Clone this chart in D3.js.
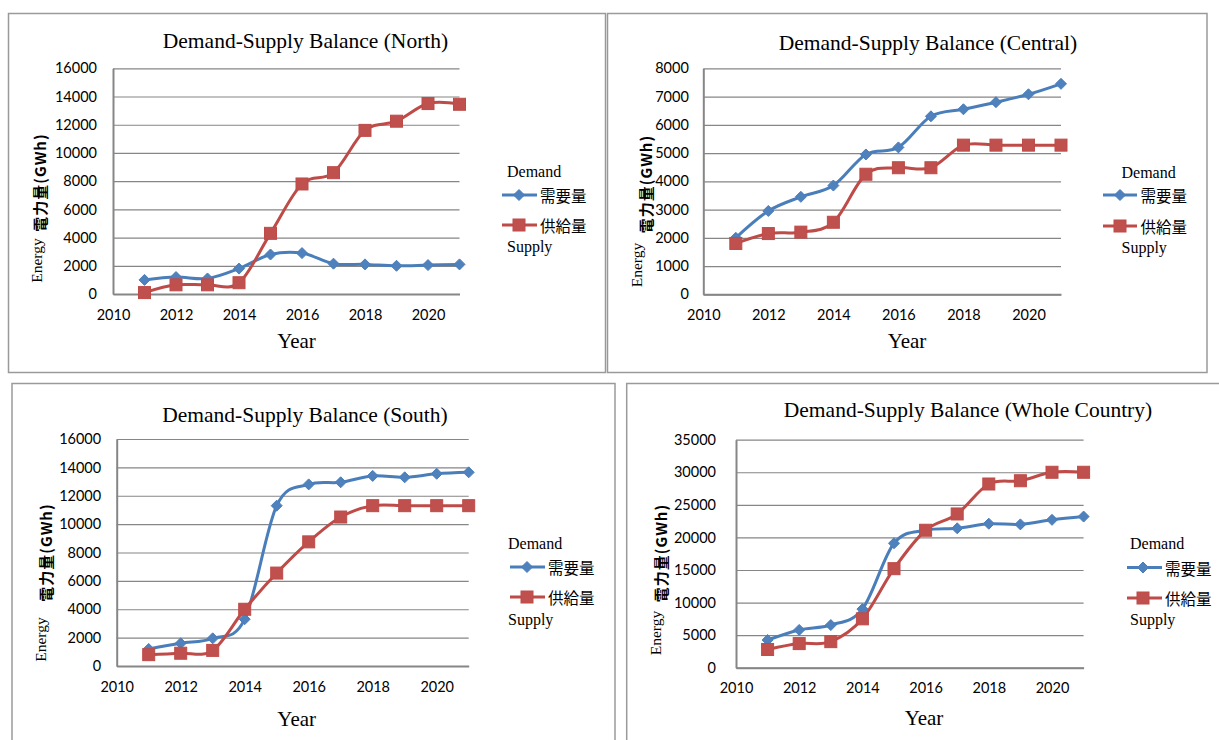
<!DOCTYPE html>
<html>
<head>
<meta charset="utf-8">
<script src="https://cdn.jsdelivr.net/npm/d3@7"></script>
<style>
  body { margin: 0; background: #fff; }
  svg { display: block; }
</style>
</head>
<body>
<svg id="chart" width="1219" height="740"></svg>
<script>
// ---- Data -------------------------------------------------------------
const years = [2011, 2012, 2013, 2014, 2015, 2016, 2017, 2018, 2019, 2020, 2021];
const xTickYears = [2010, 2012, 2014, 2016, 2018, 2020];

const northDemand   = [1000, 1200, 1100, 1800, 2800, 2900, 2150, 2100, 2000, 2050, 2100];
const northSupply   = [100, 650, 650, 800, 4300, 7800, 8600, 11600, 12250, 13500, 13450];
const centralDemand = [2000, 2950, 3450, 3850, 4950, 5200, 6300, 6550, 6800, 7080, 7450];
const centralSupply = [1800, 2150, 2200, 2550, 4250, 4480, 4480, 5280, 5280, 5280, 5280];
const southDemand   = [1200, 1600, 1950, 3300, 11300, 12800, 12950, 13400, 13300, 13550, 13650];
const southSupply   = [800, 900, 1100, 4000, 6550, 8750, 10500, 11300, 11300, 11300, 11300];
const wholeDemand   = [4250, 5800, 6550, 9000, 19100, 21100, 21400, 22100, 22000, 22700, 23200];
const wholeSupply   = [2800, 3700, 4000, 7500, 15200, 21100, 23600, 28200, 28700, 30000, 30000];

const yTicks16k = [0, 2000, 4000, 6000, 8000, 10000, 12000, 14000, 16000];
const yTicks8k  = [0, 1000, 2000, 3000, 4000, 5000, 6000, 7000, 8000];
const yTicks35k = [0, 5000, 10000, 15000, 20000, 25000, 30000, 35000];

const titles = [
  "Demand-Supply Balance (North)",
  "Demand-Supply Balance (Central)",
  "Demand-Supply Balance (South)",
  "Demand-Supply Balance (Whole Country)"
];
const xAxisTitle = "Year";
const yAxisTitleEn = "Energy";
const yAxisTitleJa = "電力量(GWh)";
const demandEn = "Demand", demandJa = "需要量";
const supplyEn = "Supply", supplyJa = "供給量";

// ---- Styles -----------------------------------------------------------
const BLUE_LINE = "#4a7ebb", BLUE_FILL = "#4f81bd";
const RED_LINE = "#be4b48", RED_FILL = "#c0504d";
const GRID = "#868686";
const SERIF = "'Liberation Serif', 'Times New Roman', serif";
const SANS = "Lato, 'Liberation Sans', sans-serif";
const CJK = "'Noto Sans CJK JP', 'Noto Sans CJK SC', sans-serif";

// ---- Layout of the four panels ---------------------------------------
const panels = [
  {
    title: titles[0], demand: northDemand, supply: northSupply, yTicks: yTicks16k,
    frame: [8.5, 13.5, 597, 359],
    xr: [113, 459.5], yr: [294, 68.3], tickPad: 16,
    titlePos: [305.5, 48], yearPos: [296.5, 348],
    enPos: [42, 260.5], jaPos: [39.5, 182.5],
    legend: { tx: 507, dY: 177, lx1: 502, lx2: 537, mx: 519, cx: 540, bY: 195, rY: 225, sY: 252 }
  },
  {
    title: titles[1], demand: centralDemand, supply: centralSupply, yTicks: yTicks8k,
    frame: [607.5, 13.5, 599.5, 359],
    xr: [703.3, 1061], yr: [294.3, 68.3], tickPad: 14.5,
    titlePos: [928, 49.5], yearPos: [907, 348],
    enPos: [642, 265], jaPos: [645.5, 184],
    legend: { tx: 1121.5, dY: 177.5, lx1: 1103, lx2: 1137, mx: 1120, cx: 1140.5, bY: 195, rY: 226, sY: 253 }
  },
  {
    title: titles[2], demand: southDemand, supply: southSupply, yTicks: yTicks16k,
    frame: [12, 383.5, 603, 400],
    xr: [116.7, 468.7], yr: [666, 439], tickPad: 15.5,
    titlePos: [305, 422], yearPos: [296.7, 726],
    enPos: [46, 639.5], jaPos: [45, 552.5],
    legend: { tx: 508, dY: 549, lx1: 510, lx2: 545, mx: 527, cx: 548, bY: 567, rY: 597, sY: 625 }
  },
  {
    title: titles[3], demand: wholeDemand, supply: wholeSupply, yTicks: yTicks35k,
    frame: [626.7, 383.5, 700, 400],
    xr: [736, 1083.6], yr: [667.7, 439.7], tickPad: 20,
    titlePos: [968, 417], yearPos: [924, 725],
    enPos: [661, 633], jaPos: [660, 553],
    legend: { tx: 1130, dY: 549, lx1: 1127, lx2: 1162, mx: 1143, cx: 1165, bY: 567.5, rY: 598, sY: 625 }
  }
];

const svg = d3.select("#chart");

function diamondPath(x, y, r) {
  return `M${x},${y - r}L${x + r},${y}L${x},${y + r}L${x - r},${y}Z`;
}

panels.forEach(p => {
  const g = svg.append("g");

  // outer frame
  g.append("rect")
    .attr("x", p.frame[0]).attr("y", p.frame[1])
    .attr("width", p.frame[2]).attr("height", p.frame[3])
    .attr("fill", "none").attr("stroke", "#9a9a9a").attr("stroke-width", 1.5);

  const x = d3.scaleLinear().domain([2010, 2021]).range(p.xr);
  const yMax = p.yTicks[p.yTicks.length - 1];
  const y = d3.scaleLinear().domain([0, yMax]).range(p.yr);
  const plotW = p.xr[1] - p.xr[0];

  // y axis with horizontal gridlines
  const ya = g.append("g")
    .attr("transform", `translate(${p.xr[0]},0)`)
    .call(d3.axisLeft(y).tickValues(p.yTicks).tickSizeInner(-plotW).tickSizeOuter(0)
      .tickPadding(p.tickPad).tickFormat(d3.format("d")));
  ya.select(".domain").attr("stroke", GRID).attr("stroke-width", 2);
  ya.selectAll(".tick line").attr("stroke", GRID).attr("stroke-width", 1.2);
  ya.selectAll(".tick text").attr("fill", "#000")
    .style("font-family", SANS).style("font-size", "14.5px");

  // x axis
  const xa = g.append("g")
    .attr("transform", `translate(0,${p.yr[0]})`)
    .call(d3.axisBottom(x).tickValues(xTickYears).tickSize(0).tickPadding(15.5)
      .tickFormat(d3.format("d")));
  xa.select(".domain").attr("stroke", GRID).attr("stroke-width", 2);
  xa.selectAll(".tick text").attr("fill", "#000")
    .style("font-family", SANS).style("font-size", "14.5px");

  // titles
  g.append("text").attr("x", p.titlePos[0]).attr("y", p.titlePos[1])
    .attr("text-anchor", "middle").style("font-family", SERIF).style("font-size", "21.5px")
    .text(p.title);
  g.append("text").attr("x", p.yearPos[0]).attr("y", p.yearPos[1])
    .attr("text-anchor", "middle").style("font-family", SERIF).style("font-size", "21px")
    .text(xAxisTitle);
  g.append("text")
    .attr("transform", `translate(${p.enPos[0]},${p.enPos[1]}) rotate(-90)`)
    .attr("text-anchor", "middle").style("font-family", SERIF).style("font-size", "15.5px")
    .text(yAxisTitleEn);
  g.append("text")
    .attr("transform", `translate(${p.jaPos[0]},${p.jaPos[1]}) rotate(-90)`)
    .attr("text-anchor", "middle").attr("dominant-baseline", "central")
    .style("font-family", CJK).style("font-weight", 700).style("font-size", "15px")
    .style("letter-spacing", "1px")
    .text(yAxisTitleJa);

  // series
  const line = d3.line()
    .x((d, i) => x(years[i]))
    .y(d => y(d))
    .curve(d3.curveCatmullRom.alpha(0));

  g.append("path").datum(p.demand).attr("d", line)
    .attr("fill", "none").attr("stroke", BLUE_LINE).attr("stroke-width", 3);
  g.append("path").datum(p.supply).attr("d", line)
    .attr("fill", "none").attr("stroke", RED_LINE).attr("stroke-width", 3);

  g.selectAll(".dm").data(p.demand).join("path")
    .attr("d", (d, i) => diamondPath(x(years[i]), y(d), 5.5))
    .attr("fill", BLUE_FILL).attr("stroke", BLUE_LINE).attr("stroke-width", 1);
  g.selectAll(".sm").data(p.supply).join("rect")
    .attr("x", (d, i) => x(years[i]) - 6).attr("y", d => y(d) - 6)
    .attr("width", 12).attr("height", 12)
    .attr("fill", RED_FILL).attr("stroke", RED_LINE).attr("stroke-width", 1);

  // legend
  const L = p.legend;
  g.append("text").attr("x", L.tx).attr("y", L.dY)
    .style("font-family", SERIF).style("font-size", "16px").text(demandEn);
  g.append("line").attr("x1", L.lx1).attr("x2", L.lx2).attr("y1", L.bY).attr("y2", L.bY)
    .attr("stroke", BLUE_LINE).attr("stroke-width", 3);
  g.append("path").attr("d", diamondPath(L.mx, L.bY, 5.5))
    .attr("fill", BLUE_FILL).attr("stroke", BLUE_LINE);
  g.append("text").attr("x", L.cx).attr("y", L.bY).attr("dominant-baseline", "central")
    .style("font-family", CJK).style("font-size", "15.5px").text(demandJa);

  g.append("line").attr("x1", L.lx1).attr("x2", L.lx2).attr("y1", L.rY).attr("y2", L.rY)
    .attr("stroke", RED_LINE).attr("stroke-width", 3);
  g.append("rect").attr("x", L.mx - 6).attr("y", L.rY - 6).attr("width", 12).attr("height", 12)
    .attr("fill", RED_FILL).attr("stroke", RED_LINE);
  g.append("text").attr("x", L.cx).attr("y", L.rY).attr("dominant-baseline", "central")
    .style("font-family", CJK).style("font-size", "15.5px").text(supplyJa);
  g.append("text").attr("x", L.tx).attr("y", L.sY)
    .style("font-family", SERIF).style("font-size", "16px").text(supplyEn);
});
</script>
</body>
</html>
